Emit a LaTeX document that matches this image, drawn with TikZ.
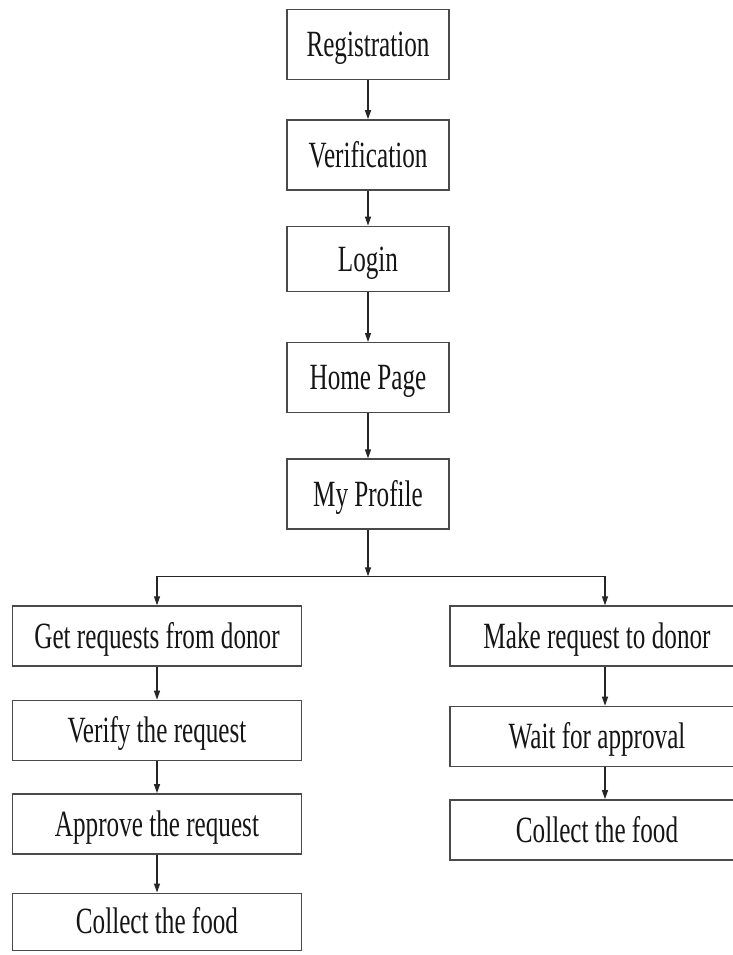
\documentclass[tikz,border=0pt]{standalone}
\usepackage{fontspec}
\usepackage{xcolor}
\usepackage{tikz}
\usetikzlibrary{arrows.meta, positioning}
\newfontfamily\boxfont{Liberation Serif}[FakeStretch=0.68]
\definecolor{lineGray}{HTML}{4A4A4A}
\definecolor{textGray}{HTML}{151515}

\begin{document}
\begin{tikzpicture}[
    x=1pt, y=1pt,
    node distance=40pt,
    every node/.style={draw=lineGray, line width=1.4pt, minimum width=162pt, minimum height=70pt, inner sep=0pt, align=center, text=textGray, text height=24.5pt, text depth=0pt, font=\boxfont\fontsize{37}{37}\selectfont},
    arrow/.style={-{Triangle[length=9pt, width=6pt]}, line width=1.2pt, color=black!85}
]
\useasboundingbox (0,0) rectangle (732,-955);

\node (reg) at (368,-44.5) {Registration};
\node (ver) [below=39pt of reg] {Verification};
\node (login) [below=35pt of ver, minimum height=65pt] {Login};
\node (home) [below=50pt of login] {Home Page};
\node (prof) [below=45pt of home] {My Profile};

% left branch
\node (getreq) at (157,-636) [minimum width=289pt, minimum height=60pt] {Get requests from donor};
\node (verreq) [below=33pt of getreq, minimum width=289pt, minimum height=60pt] {Verify the request};
\node (appreq) [below=32pt of verreq, minimum width=289pt, minimum height=60pt] {Approve the request};
\node (colleft) [below=38pt of appreq, minimum width=289pt, minimum height=57pt] {Collect the food};

% right branch
\node (makereq) at (597,-636) [minimum width=294pt, minimum height=60pt] {Make request to donor};
\node (wait) [below=39pt of makereq, minimum width=294pt, minimum height=60pt] {Wait for approval};
\node (colright) [below=32pt of wait, minimum width=294pt, minimum height=60pt] {Collect the food};

\draw[arrow] (reg) -- (ver);
\draw[arrow] (ver) -- (login);
\draw[arrow] (login) -- (home);
\draw[arrow] (home) -- (prof);
\draw[arrow] (prof.south) -- ++(0,-46.5) coordinate (split);
\draw[arrow] (split) -| (getreq.north);
\draw[arrow] (split) -| ([xshift=8pt]makereq.north);

\draw[arrow] (getreq) -- (verreq);
\draw[arrow] (verreq.south -| getreq) -- (appreq.north -| getreq);
\draw[arrow] (appreq) -- (colleft);

\draw[arrow] ([xshift=8pt]makereq.south) -- ([xshift=8pt]wait.north);
\draw[arrow] ([xshift=8pt]wait.south) -- ([xshift=8pt]colright.north);
\end{tikzpicture}
\end{document}
